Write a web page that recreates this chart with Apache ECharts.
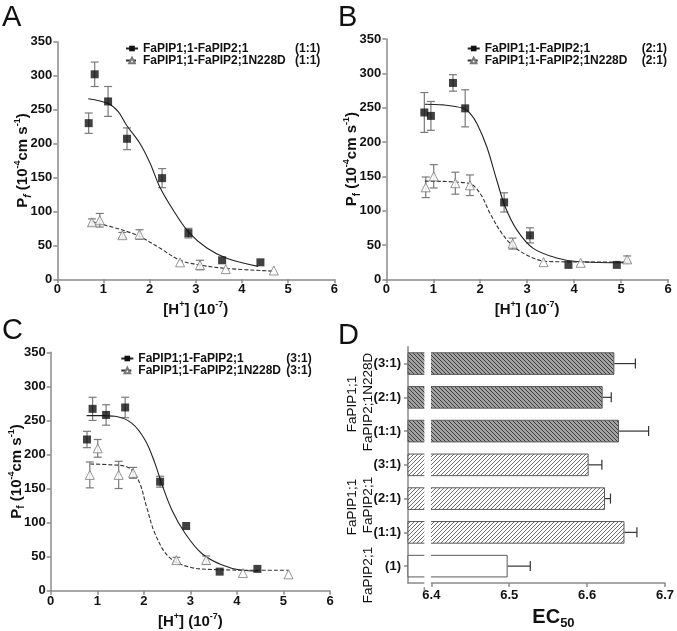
<!DOCTYPE html>
<html><head><meta charset="utf-8">
<script src="https://cdn.jsdelivr.net/npm/echarts@6/dist/echarts.min.js"></script>
<style>html,body{margin:0;padding:0;background:#fff}#c{width:677px;height:631px}</style>
</head><body><div id="c"></div>
<script>
// ---------- Panel A (1:1) ----------
const aSqX = [0.68, 0.81, 1.10, 1.51, 2.27, 2.84, 3.57, 4.40];
const aSqY = [230, 302, 262, 207, 149, 68, 28, 25];
const aSqErr = [15, 18, 22, 16, 14, 7, 0, 0];
const aTrX = [0.75, 0.92, 1.41, 1.78, 2.66, 3.09, 3.65, 4.69];
const aTrY = [84, 87, 65, 66, 25, 21, 15, 13];
const aTrErr = [5, 10, 4, 7, 0, 7, 0, 0];
const aFitX = [0.67, 1.10, 1.32, 1.50, 1.79, 2.01, 2.22, 2.51, 2.84, 3.24, 3.67, 4.35];
const aFitY = [266, 259, 247, 227, 200, 171, 136, 102, 70, 46, 31, 19];
const aFitNX = [0.75, 1.39, 1.79, 2.22, 2.66, 3.09, 3.67, 4.68];
const aFitNY = [85, 73, 63, 46, 28, 21, 16, 12];
// ---------- Panel B (2:1) ----------
const bSqX = [0.81, 0.95, 1.42, 1.68, 2.51, 3.06, 3.88, 4.91];
const bSqY = [243, 238, 286, 249, 112, 64, 21, 21];
const bSqErr = [29, 21, 12, 27, 14, 11, 0, 0];
const bTrX = [0.84, 1.01, 1.47, 1.78, 2.69, 3.35, 4.14, 5.13];
const bTrY = [134, 150, 140, 137, 52, 25, 24, 29];
const bTrErr = [15, 17, 16, 15, 8, 0, 0, 5];
const bFitX = [0.82, 1.21, 1.64, 1.78, 1.93, 2.14, 2.35, 2.53, 2.78, 3.13, 3.63, 4.05, 5.13];
const bFitY = [255, 254, 249, 242, 227, 193, 145, 106, 72, 45, 31, 26, 24];
const bFitNX = [0.82, 1.75, 2.00, 2.21, 2.46, 2.71, 3.06, 3.42, 4.76, 5.13];
const bFitNY = [143, 140, 125, 96, 67, 48, 33, 26, 25, 25];
// ---------- Panel C (3:1) ----------
const cSqX = [0.78, 0.90, 1.19, 1.60, 2.35, 2.91, 3.63, 4.44];
const cSqY = [222, 267, 258, 269, 160, 95, 28, 32];
const cSqErr = [12, 17, 15, 15, 8, 0, 0, 0];
const cTrX = [0.84, 1.01, 1.46, 1.77, 2.70, 3.34, 4.13, 5.11];
const cTrY = [170, 209, 170, 173, 45, 45, 26, 24];
const cTrErr = [19, 13, 20, 8, 4, 6, 0, 0];
const cFitX = [0.77, 1.06, 1.38, 1.74, 2.03, 2.24, 2.38, 2.60, 2.89, 3.24, 3.67, 4.10, 4.46];
const cFitY = [257, 257, 256, 246, 221, 187, 158, 119, 84, 55, 38, 30, 29];
const cFitNX = [0.85, 1.24, 1.63, 1.88, 2.06, 2.24, 2.53, 2.96, 3.53, 4.82, 5.11];
const cFitNY = [186, 185, 182, 163, 123, 84, 50, 35, 31, 30, 30];
// ---------- Panel D (EC50) ----------
const dLabels = ['(3:1)', '(2:1)', '(1:1)', '(3:1)', '(2:1)', '(1:1)', '(1)'];
const dValues = [6.635, 6.620, 6.641, 6.602, 6.623, 6.648, 6.498];
const dErr = [0.027, 0.011, 0.038, 0.017, 0.007, 0.016, 0.029];
const dKind = ['mut', 'mut', 'mut', 'wt', 'wt', 'wt', 'single'];
const dTicks = [6.4, 6.5, 6.6, 6.7];

const FONT = 'Liberation Sans, Arial, Helvetica, sans-serif';
const AX = '#8a8a8a';
const zip = (xs, ys) => xs.map((x, i) => [x, ys[i]]);
const zip3 = (xs, ys, es) => xs.map((x, i) => [x, ys[i], es[i]]).filter(d => d[2] > 0);

function hatch(bg, fg, slash) {
  const c = document.createElement('canvas'); c.width = 4; c.height = 4;
  const g = c.getContext('2d'); g.fillStyle = bg; g.fillRect(0, 0, 4, 4);
  g.strokeStyle = fg; g.lineWidth = 1; g.beginPath();
  if (slash) { g.moveTo(0, 4); g.lineTo(4, 0); g.moveTo(-1, 1); g.lineTo(1, -1); g.moveTo(3, 5); g.lineTo(5, 3); }
  else { g.moveTo(0, 0); g.lineTo(4, 4); g.moveTo(-1, 3); g.lineTo(1, 5); g.moveTo(3, -1); g.lineTo(5, 1); }
  g.stroke(); return c;
}
const darkPat = { image: hatch('#a2a2a2', '#3c3c3c', false), repeat: 'repeat' };
const lightPat = { image: hatch('#ffffff', '#6c6c6c', true), repeat: 'repeat' };

function errV(color) {
  return function (params, api) {
    const x = api.value(0), y = api.value(1), e = api.value(2);
    const t = api.coord([x, y + e]), b = api.coord([x, y - e]);
    const st = { stroke: color, lineWidth: 1.2 };
    return { type: 'group', children: [
      { type: 'line', shape: { x1: t[0], y1: t[1], x2: b[0], y2: b[1] }, style: st },
      { type: 'line', shape: { x1: t[0] - 4, y1: t[1], x2: t[0] + 4, y2: t[1] }, style: st },
      { type: 'line', shape: { x1: b[0] - 4, y1: b[1], x2: b[0] + 4, y2: b[1] }, style: st }
    ] };
  };
}
function errH(params, api) {
  const v = api.value(0), c = api.value(1), e = api.value(2);
  const s = api.coord([v, c]), t = api.coord([v + e, c]);
  const st = { stroke: '#333', lineWidth: 1.2 };
  return { type: 'group', children: [
    { type: 'line', shape: { x1: s[0], y1: s[1], x2: t[0], y2: t[1] }, style: st },
    { type: 'line', shape: { x1: t[0], y1: t[1] - 5, x2: t[0], y2: t[1] + 5 }, style: st }
  ] };
}

const sup = { fontSize: 9, lineHeight: 9, verticalAlign: 'top', fontWeight: 'bold', fontFamily: FONT, color: '#111' };
const sub = { fontSize: 10, lineHeight: 10, verticalAlign: 'bottom', fontWeight: 'bold', fontFamily: FONT, color: '#111' };
const main = { fontSize: 15, lineHeight: 20, verticalAlign: 'middle', fontWeight: 'bold', fontFamily: FONT, color: '#111' };
const yName = '{p|P}{s|f}{p| (10}{u|-4}{p|cm s}{u|-1}{p|)}';
const yNameIt = '{p|P}{si|f}{p| (10}{u|-4}{p|cm s}{u|-1}{p|)}';
const xName = '{p|[H}{u|+}{p|] (10}{u|-7}{p|)}';
const richAx = { p: main, u: sup, s: sub, si: Object.assign({}, sub, { fontStyle: 'italic' }) };

const grids = [
  { left: 57.3, top: 41.7, width: 277, height: 237.6 },
  { left: 386.3, top: 39, width: 281.7, height: 240.3 },
  { left: 50.7, top: 352.3, width: 279.3, height: 238.4 },
  { left: 408, top: 346.7, width: 258, height: 240.6 }
];
const labelStyle = { fontSize: 13, fontWeight: 'bold', color: '#111', fontFamily: FONT };
function valX(i) {
  return { type: 'value', gridIndex: i, min: 0, max: 6, interval: 1,
    axisLine: { show: true, lineStyle: { color: AX, width: 1.5 } },
    axisTick: { show: true, length: 4, lineStyle: { color: AX, width: 1.5 } },
    axisLabel: Object.assign({ margin: 4 }, labelStyle), splitLine: { show: false },
    name: xName, nameLocation: 'middle', nameGap: 21, nameTextStyle: { rich: richAx } };
}
function valY(i, it) {
  return { type: 'value', gridIndex: i, min: 0, max: 350, interval: 50,
    axisLine: { show: true, lineStyle: { color: AX, width: 1.5 } },
    axisTick: { show: true, length: 4, lineStyle: { color: AX, width: 1.5 } },
    axisLabel: Object.assign({ margin: 5 }, labelStyle), splitLine: { show: false },
    name: it ? yNameIt : yName, nameLocation: 'middle', nameRotate: 90, nameGap: 24,
    nameMoveOverlap: false,
    nameTextStyle: { rich: richAx } };
}

function panel(i, ratio, sqX, sqY, sqE, trX, trY, trE, fX, fY, nX, nY) {
  const nm1 = 'FaPIP1;1-FaPIP2;1 ' + ratio, nm2 = 'FaPIP1;1-FaPIP2;1N228D ' + ratio;
  return [
    { type: 'custom', xAxisIndex: i, yAxisIndex: i, renderItem: errV('#7a7a7a'), data: zip3(sqX, sqY, sqE), z: 2, silent: true },
    { type: 'custom', xAxisIndex: i, yAxisIndex: i, renderItem: errV('#7a7a7a'), data: zip3(trX, trY, trE), z: 2, silent: true },
    { name: nm1, type: 'line', xAxisIndex: i, yAxisIndex: i, data: zip(fX, fY), smooth: 0.35,
      symbol: 'rect', symbolSize: 8, showSymbol: false, itemStyle: { color: '#111' },
      lineStyle: { color: '#222', width: 1.1 }, z: 3, silent: true },
    { name: nm2, type: 'line', xAxisIndex: i, yAxisIndex: i, data: zip(nX, nY), smooth: 0.35,
      symbol: 'triangle', symbolSize: 9, showSymbol: false, itemStyle: { color: '#fff', borderColor: '#777', borderWidth: 1 },
      lineStyle: { color: '#333', width: 1.1, type: [4, 2] }, z: 3, silent: true },
    { type: 'scatter', xAxisIndex: i, yAxisIndex: i, data: zip(sqX, sqY), symbol: 'rect', symbolSize: 8,
      itemStyle: { color: '#111' }, z: 4, silent: true },
    { type: 'scatter', xAxisIndex: i, yAxisIndex: i, data: zip(trX, trY), symbol: 'triangle', symbolSize: 9,
      itemStyle: { color: '#fff', borderColor: '#7a7a7a', borderWidth: 1 }, z: 4, silent: true }
  ];
}
function legend(ratio, left, top, w) {
  return { left: left, top: top, orient: 'vertical', itemWidth: 12, itemHeight: 7, itemGap: 0,
    selectedMode: false,
    data: ['FaPIP1;1-FaPIP2;1 ' + ratio, 'FaPIP1;1-FaPIP2;1N228D ' + ratio],
    formatter: n => '{a|' + n.replace(' ' + ratio, '') + '}{b|' + ratio + '}',
    textStyle: { rich: {
      a: { width: w, fontSize: 12, fontWeight: 'bold', color: '#111', fontFamily: FONT, lineHeight: 15 },
      b: { fontSize: 12, fontWeight: 'bold', color: '#111', fontFamily: FONT, lineHeight: 15 } } } };
}

const series = [].concat(
  panel(0, '(1:1)', aSqX, aSqY, aSqErr, aTrX, aTrY, aTrErr, aFitX, aFitY, aFitNX, aFitNY),
  panel(1, '(2:1)', bSqX, bSqY, bSqErr, bTrX, bTrY, bTrErr, bFitX, bFitY, bFitNX, bFitNY),
  panel(2, '(3:1)', cSqX, cSqY, cSqErr, cTrX, cTrY, cTrErr, cFitX, cFitY, cFitNX, cFitNY)
);
series.push({
  type: 'bar', xAxisIndex: 3, yAxisIndex: 3, barCategoryGap: '33%', silent: true,
  data: dValues.map((v, i) => ({ value: v, itemStyle: {
    color: dKind[i] === 'mut' ? darkPat : (dKind[i] === 'wt' ? lightPat : '#ffffff'),
    borderColor: '#5a5a5a', borderWidth: 1 } })), z: 2
});
series.push({ type: 'custom', xAxisIndex: 3, yAxisIndex: 3, renderItem: errH, silent: true, z: 3,
  data: dValues.map((v, i) => [v, i, dErr[i]]) });

const letter = (t, x, y) => ({ type: 'text', x: x, y: y, style: { text: t, fontSize: 29, fontFamily: FONT, fill: '#111' } });
const rot = (t, x, y, id) => ({ id: id, type: 'text', x: x, y: y, rotation: Math.PI / 2,
  style: { text: t, fontSize: 13.5, fontFamily: FONT, fill: '#111', align: 'center', verticalAlign: 'middle' } });

const chart = echarts.init(document.getElementById('c'), null, { renderer: 'canvas' });
chart.setOption({
  animation: false,
  backgroundColor: '#fff',
  grid: grids,
  xAxis: [valX(0), valX(1), valX(2), {
    type: 'value', gridIndex: 3, min: 6.37, max: 6.7,
    axisLine: { show: true, lineStyle: { color: AX, width: 1.5 } },
    axisTick: { show: true, length: 4, customValues: dTicks, lineStyle: { color: AX, width: 1.5 } },
    axisLabel: Object.assign({ margin: 6, customValues: dTicks, formatter: v => v.toFixed(1) }, labelStyle),
    splitLine: { show: false },
    name: '{e|EC}{s|50}', nameLocation: 'middle', nameGap: 21,
    nameTextStyle: { padding: [0, 0, 0, 34], rich: {
      e: { fontSize: 20, lineHeight: 26, fontFamily: FONT, color: '#111', verticalAlign: 'middle', fontWeight: 'bold' },
      s: { fontSize: 13, lineHeight: 13, fontFamily: FONT, color: '#111', verticalAlign: 'bottom', fontWeight: 'bold' } } }
  }],
  yAxis: [valY(0, true), valY(1), valY(2), {
    type: 'category', gridIndex: 3, inverse: true, data: dLabels.map((d, i) => String(i)),
    axisLine: { show: true, lineStyle: { color: AX, width: 1.5 } },
    axisTick: { show: true, length: 4, alignWithLabel: true, lineStyle: { color: AX, width: 1.5 } },
    axisLabel: Object.assign({ margin: 7, formatter: v => dLabels[+v] }, labelStyle)
  }],
  legend: [legend('(1:1)', 120, 37.5, 152), legend('(2:1)', 461.7, 37.5, 157), legend('(3:1)', 115.3, 347.5, 148)],
  graphic: [
    letter('A', 2, 3), letter('B', 338, 3), letter('C', 2, 316), letter('D', 338, 321),
    rot('FaPIP1;1', 352, 404, 'g1'), rot('FaPIP2;1N228D', 368, 402, 'g2'),
    rot('FaPIP1;1', 352, 507, 'g3'), rot('FaPIP2;1', 368, 505, 'g4'),
    rot('FaPIP2;1', 368, 575, 'g5')
  ],
  series: series
});

// axis break of panel D: white gap computed through the axis scale
const bx1 = chart.convertToPixel({ xAxisIndex: 3 }, 6.391);
const bx2 = chart.convertToPixel({ xAxisIndex: 3 }, 6.3995);
const gTop = grids[3].top, gBot = grids[3].top + grids[3].height;
chart.setOption({ graphic: [
  { id: 'brk', type: 'rect', z: 100, shape: { x: bx1, y: gTop - 2, width: bx2 - bx1, height: gBot - gTop + 3 }, style: { fill: '#fff' } },
  { id: 'brkT', type: 'line', z: 101, shape: { x1: bx1, y1: gBot, x2: bx1, y2: gBot + 4 }, style: { stroke: AX, lineWidth: 1.5 } }
] });
</script></body></html>
